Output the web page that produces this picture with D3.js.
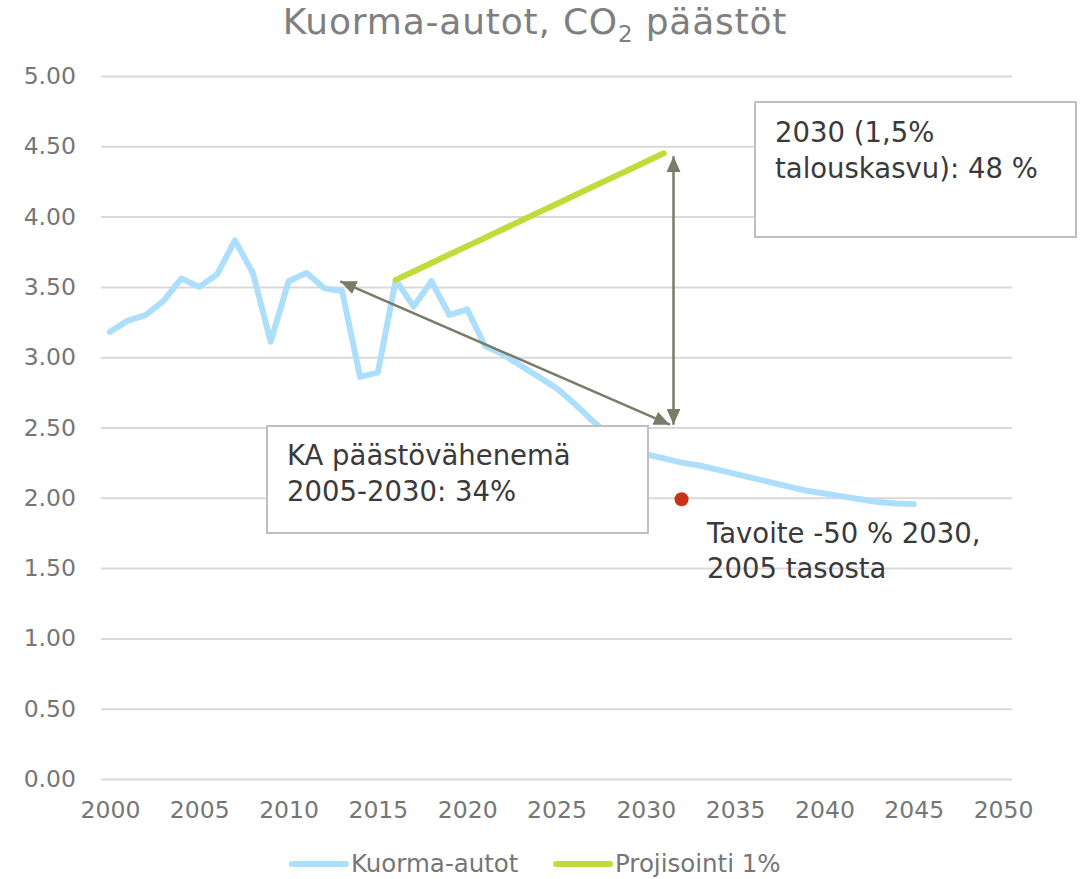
<!DOCTYPE html>
<html>
<head>
<meta charset="utf-8">
<script src="https://cdn.jsdelivr.net/npm/d3@7"></script>
<style>
  body { margin: 0; background: #fff; }
  text { font-family: "DejaVu Sans", Verdana, sans-serif; }
</style>
</head>
<body>
<div id="chart"></div>
<script>
// data
var years = d3.range(2000, 2046);
var kuorma = [3.18, 3.26, 3.30, 3.40, 3.56, 3.50, 3.59, 3.83, 3.60, 3.11,
  3.54, 3.60, 3.49, 3.47, 2.86, 2.89, 3.55, 3.36, 3.54, 3.30,
  3.34, 3.08, 3.02, 2.94, 2.86, 2.78, 2.67, 2.55, 2.44, 2.36,
  2.31, 2.28, 2.25, 2.23, 2.20, 2.17, 2.14, 2.11, 2.08, 2.05,
  2.03, 2.01, 1.99, 1.97, 1.96, 1.955];
var projYears = d3.range(2016, 2032);
var projisointi = [3.55, 3.61, 3.67, 3.73, 3.79, 3.85, 3.91, 3.97, 4.03, 4.09,
  4.15, 4.21, 4.27, 4.33, 4.39, 4.45];
var target = { year: 2032, value: 1.99 };
var xTicks = d3.range(2000, 2051, 5);
var yTicks = d3.range(0, 5.01, 0.5);
var seriesNames = ["Kuorma-autot", "Projisointi 1%"];

// annotation arrows (data coordinates)
var arrows = [
  { from: [2012.9, 3.54], to: [2031.35, 2.52] },
  { from: [2031.55, 4.43], to: [2031.55, 2.52] }
];

var svgWidth = 1089;
var svgHeight = 879;
var plot = { left: 101, right: 1012, top: 76, bottom: 779 };

var svg = d3.select("#chart")
  .append("svg")
  .attr("width", svgWidth)
  .attr("height", svgHeight);

var xScale = d3.scaleLinear()
  .domain([1999.5, 2050.5])
  .range([plot.left, plot.right]);
var yScale = d3.scaleLinear()
  .domain([0, 5])
  .range([plot.bottom, plot.top]);

var tickColor = "#767676";

// title
var title = svg.append("text")
  .attr("x", 535)
  .attr("y", 34)
  .attr("text-anchor", "middle")
  .attr("fill", "#7f7f7f")
  .attr("font-size", "36px")
  .attr("letter-spacing", "0.8px");
title.append("tspan").text("Kuorma-autot, CO");
title.append("tspan").attr("font-size", "23px").attr("dy", 8).text("2");
title.append("tspan").attr("dy", -8).text(" päästöt");

// gridlines + y labels
var leftAxis = d3.axisLeft(yScale)
  .tickValues(yTicks)
  .tickSize(-(plot.right - plot.left))
  .tickPadding(25)
  .tickFormat(d3.format(".2f"));
var gy = svg.append("g")
  .attr("transform", `translate(${plot.left},0)`)
  .call(leftAxis);
gy.select(".domain").remove();
gy.selectAll(".tick line").attr("stroke", "#d9d9d9").attr("stroke-width", 2);
gy.selectAll(".tick text")
  .attr("fill", tickColor)
  .attr("font-size", "23.5px")
  .attr("font-family", "DejaVu Sans, sans-serif");

// x labels
var bottomAxis = d3.axisBottom(xScale)
  .tickValues(xTicks)
  .tickSize(0)
  .tickPadding(22)
  .tickFormat(d3.format("d"));
var gx = svg.append("g")
  .attr("transform", `translate(0,${plot.bottom})`)
  .call(bottomAxis);
gx.select(".domain").remove();
gx.selectAll(".tick text")
  .attr("fill", tickColor)
  .attr("font-size", "23.5px")
  .attr("font-family", "DejaVu Sans, sans-serif");

// lines
var line = d3.line()
  .x(d => xScale(d[0]))
  .y(d => yScale(d[1]));

svg.append("path")
  .datum(years.map((y, i) => [y, kuorma[i]]))
  .attr("d", line)
  .attr("fill", "none")
  .attr("stroke", "#addffd")
  .attr("stroke-width", 6)
  .attr("stroke-linejoin", "round")
  .attr("stroke-linecap", "round");

svg.append("path")
  .datum(projYears.map((y, i) => [y, projisointi[i]]))
  .attr("d", line)
  .attr("fill", "none")
  .attr("stroke", "#bfdc3a")
  .attr("stroke-width", 6)
  .attr("stroke-linejoin", "round")
  .attr("stroke-linecap", "round");

// arrows
var arrowColor = "#7b7b69";
svg.append("defs").append("marker")
  .attr("id", "head")
  .attr("viewBox", "0 0 16 14")
  .attr("refX", 16)
  .attr("refY", 7)
  .attr("markerWidth", 16)
  .attr("markerHeight", 14)
  .attr("markerUnits", "userSpaceOnUse")
  .attr("orient", "auto-start-reverse")
  .append("path")
  .attr("d", "M0,0L16,7L0,14Z")
  .attr("fill", arrowColor);

svg.selectAll(".arrow")
  .data(arrows)
  .enter()
  .append("line")
  .attr("class", "arrow")
  .attr("x1", d => xScale(d.from[0]))
  .attr("y1", d => yScale(d.from[1]))
  .attr("x2", d => xScale(d.to[0]))
  .attr("y2", d => yScale(d.to[1]))
  .attr("stroke", arrowColor)
  .attr("stroke-width", 2.5)
  .attr("marker-start", "url(#head)")
  .attr("marker-end", "url(#head)");

// text boxes
var textColor = "#3a3a3a";
function box(x, y, w, h, lines, tx, ty) {
  svg.append("rect")
    .attr("x", x).attr("y", y)
    .attr("width", w).attr("height", h)
    .attr("fill", "#fff")
    .attr("stroke", "#bfbfbf")
    .attr("stroke-width", 2);
  lines.forEach((t, i) => {
    svg.append("text")
      .attr("x", tx)
      .attr("y", ty + i * 35.7)
      .attr("fill", textColor)
      .attr("font-size", "27.5px")
      .text(t);
  });
}
box(755, 102, 321, 135, ["2030 (1,5%", "talouskasvu): 48 %"], 775, 142);
box(267, 426, 381, 107, ["KA päästövähenemä", "2005-2030: 34%"], 287, 465);

// target point
svg.append("circle")
  .attr("cx", xScale(target.year))
  .attr("cy", yScale(target.value))
  .attr("r", 7)
  .attr("fill", "#c8321a");

["Tavoite -50 % 2030,", "2005 tasosta"].forEach((t, i) => {
  svg.append("text")
    .attr("x", 707)
    .attr("y", 543 + i * 34.5)
    .attr("fill", textColor)
    .attr("font-size", "27.5px")
    .text(t);
});

// legend
var legendColors = ["#addffd", "#bfdc3a"];
var legendX = [292, 556];
seriesNames.forEach((name, i) => {
  svg.append("line")
    .attr("x1", legendX[i]).attr("x2", legendX[i] + 54)
    .attr("y1", 864).attr("y2", 864)
    .attr("stroke", legendColors[i])
    .attr("stroke-width", 6)
    .attr("stroke-linecap", "round");
  svg.append("text")
    .attr("x", legendX[i] + 59)
    .attr("y", 872)
    .attr("fill", tickColor)
    .attr("font-size", "24.5px")
    .text(name);
});
</script>
</body>
</html>
